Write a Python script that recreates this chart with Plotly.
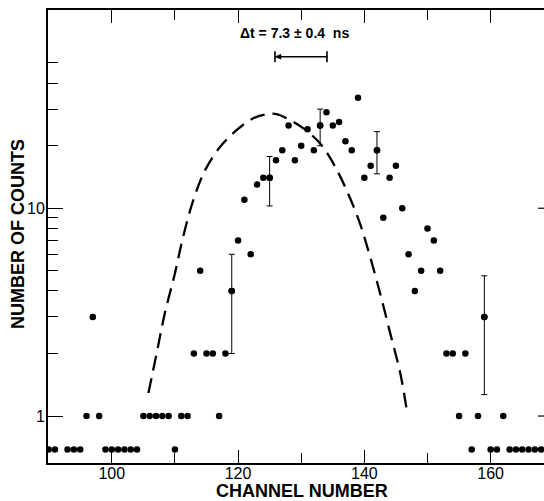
import math
import plotly.graph_objects as go

# ---- data ----
channels = [90, 91, 93, 94, 95, 96, 97, 98, 99, 100, 101, 102, 103, 104,
            105, 106, 107, 108, 109, 110, 111, 112, 113, 114, 115, 116, 117,
            118, 119, 120, 121, 122, 123, 124, 125, 126, 127, 128, 129, 130,
            131, 132, 133, 134, 135, 136, 137, 138, 139, 140, 141, 142, 143,
            144, 145, 146, 147, 148, 149, 150, 151, 152, 153, 154, 155, 156,
            157, 158, 159, 160, 161, 162, 163, 164, 165, 166, 167, 168]
counts = [0, 0, 0, 0, 0, 1, 3, 1, 0, 0, 0, 0, 0, 0,
          1, 1, 1, 1, 1, 0, 1, 1, 2, 5, 2, 2, 1,
          2, 4, 7, 11, 6, 13, 14, 14, 17, 19, 25, 17, 20,
          24, 19, 25, 29, 25, 26, 21, 19, 34, 14, 16, 19, 9,
          14, 16, 10, 6, 4, 5, 8, 7, 5, 2, 2, 1, 2,
          0, 1, 3, 0, 0, 1, 0, 0, 0, 0, 0, 0]
zero_level = 0.69          # plotting level used for empty channels

err_channels = [119, 125, 133, 142, 159]

curve_channels = [105.8, 107.1, 108.4, 110.0, 111.3, 112.9, 114.8, 117.2,
                  119.8, 122.4, 124.5, 126.1, 127.7, 130.3, 133.0, 135.1,
                  137.2, 139.3, 140.9, 142.5, 144.1, 145.7, 146.8]
curve_counts = [1.29, 2.00, 3.12, 4.86, 7.29, 10.9, 15.3, 19.8,
                23.8, 27.1, 28.3, 28.4, 27.1, 24.3, 20.5, 16.4,
                12.2, 8.45, 5.85, 3.89, 2.50, 1.60, 1.03]

x_ticks = [100, 120, 140, 160]
y_ticks = [1, 10]
y_ticktext = ["1", "10"]
y_minor = [2, 3, 4, 5, 6, 7, 8, 9, 20, 30, 40, 50]

annotation_text = "<b>Δt = 7.3 ± 0.4  ns</b>"
x_title = "<b>CHANNEL NUMBER</b>"
y_title = "<b>NUMBER OF COUNTS</b>"

# ---- figure ----
W, H = 544, 501
ML, MR, MT, MB = 48, 0, 10, 38
XR = [89.9, 168.45]
YR = [-0.226, 1.954]
FONT = "Liberation Sans, Arial, sans-serif"

y_plot = [c if c > 0 else zero_level for c in counts]

fig = go.Figure()

fig.add_trace(go.Scatter(
    x=curve_channels, y=curve_counts, mode="lines",
    line=dict(color="black", width=2.3, dash="15px,8px", shape="spline", smoothing=1.0),
    hoverinfo="skip", showlegend=False))

fig.add_trace(go.Scatter(
    x=channels, y=y_plot, mode="markers",
    marker=dict(color="black", size=6.5),
    showlegend=False))

ex = [c for c in err_channels]
ey = [counts[channels.index(c)] for c in err_channels]
ee = [math.sqrt(v) for v in ey]
fig.add_trace(go.Scatter(
    x=ex, y=ey, mode="markers",
    marker=dict(color="black", size=6.5),
    error_y=dict(type="data", array=ee, visible=True, color="black",
                 thickness=1, width=3),
    showlegend=False))

def ypaper(v):
    return (math.log10(v) - YR[0]) / (YR[1] - YR[0])

pw = W - ML - MR
ph = H - MT - MB
shapes = []
# stubs of the right-hand frame ticks at 1 and 10
for v in y_ticks:
    shapes.append(dict(type="line", xref="paper", yref="paper",
                       x0=1 - 6 / pw, x1=1, y0=ypaper(v), y1=ypaper(v),
                       line=dict(color="black", width=1.2)))

# Δt bracket
bx0 = (275 - ML) / pw
bx1 = (327 - ML) / pw
by = (H - MB - 56.7) / ph
cap = 5.5 / ph
shapes.append(dict(type="line", xref="paper", yref="paper", x0=bx0, x1=bx1, y0=by, y1=by,
                   line=dict(color="black", width=1.6)))
for bx in (bx0, bx1):
    shapes.append(dict(type="line", xref="paper", yref="paper", x0=bx, x1=bx,
                       y0=by - cap, y1=by + cap, line=dict(color="black", width=1.6)))
ah = 6 / pw
av = 2.5 / ph
shapes.append(dict(type="path", xref="paper", yref="paper",
                   path=f"M {bx0} {by} L {bx0 + ah} {by + av} L {bx0 + ah} {by - av} Z",
                   fillcolor="black", line=dict(color="black", width=0.5)))

annotations = [
    dict(text=annotation_text, xref="paper", yref="paper",
         x=(294 - ML) / pw, y=(H - MB - 33) / ph,
         xanchor="center", yanchor="middle", showarrow=False,
         font=dict(family=FONT, size=14, color="black")),
    dict(text=x_title, xref="paper", yref="paper",
         x=(301.5 - ML) / pw, y=(H - MB - 491) / ph,
         xanchor="center", yanchor="middle", showarrow=False,
         font=dict(family=FONT, size=18, color="black")),
    dict(text=y_title, xref="paper", yref="paper", textangle=-90,
         x=(18 - ML) / pw, y=(H - MB - 234) / ph,
         xanchor="center", yanchor="middle", showarrow=False,
         font=dict(family=FONT, size=18, color="black")),
]

fig.update_layout(
    width=W, height=H,
    margin=dict(l=ML, r=MR, t=MT, b=MB, pad=0),
    paper_bgcolor="white", plot_bgcolor="white",
    font=dict(family=FONT, color="black"),
    shapes=shapes, annotations=annotations,
    xaxis=dict(range=XR, tickmode="array", tickvals=x_ticks,
               ticks="inside", ticklen=13, tickwidth=1.3, tickcolor="black",
               showline=True, linewidth=2, linecolor="black", mirror="ticks",
               showgrid=False, zeroline=False, ticklabelstandoff=-5,
               tickfont=dict(family=FONT, size=16, color="black"),
               minor=dict(tickmode="linear", tick0=0, dtick=10, ticks="inside",
                          ticklen=10, tickwidth=1.1, tickcolor="black", showgrid=False),
               automargin=False),
    yaxis=dict(type="log", range=YR, tickmode="array", tickvals=y_ticks,
               ticktext=y_ticktext,
               ticks="inside", ticklen=15, tickwidth=1.3, tickcolor="black",
               showline=True, linewidth=2, linecolor="black", mirror=False,
               showgrid=False, zeroline=False, ticklabelstandoff=-2,
               tickfont=dict(family=FONT, size=16, color="black"),
               minor=dict(tickmode="array", tickvals=y_minor, ticks="inside",
                          ticklen=10, tickwidth=1.1, tickcolor="black", showgrid=False),
               automargin=False),
)

fig.write_html("out.html")
